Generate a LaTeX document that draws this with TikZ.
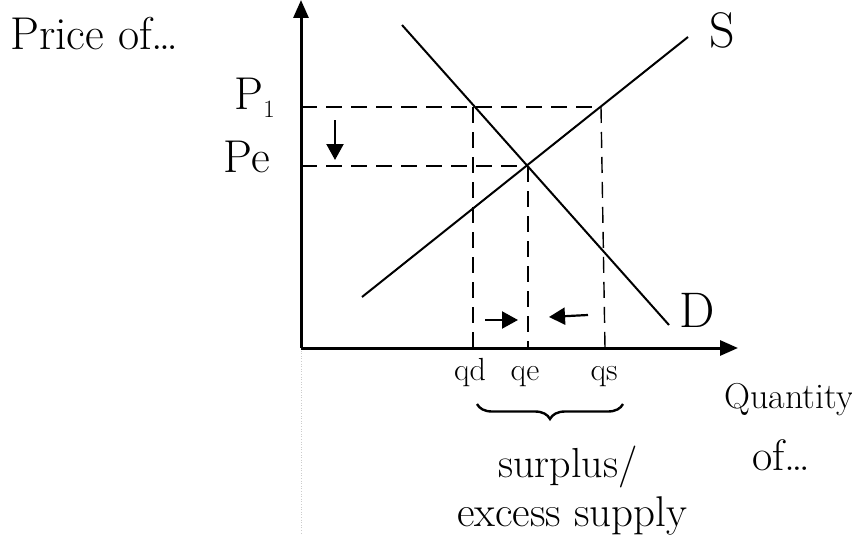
\documentclass[tikz,border=0pt]{standalone}
\usepackage{fontspec}
\usetikzlibrary{arrows.meta,decorations.pathreplacing}
\begin{document}
\begin{tikzpicture}[x=1pt,y=-1pt,
  axis/.style={line width=3pt,-{Triangle[length=18pt,width=15pt]}},
  curve/.style={line width=2pt},
  guide/.style={line width=1.4pt,dash pattern=on 16pt off 9pt},
  smallarrow/.style={line width=2.2pt,-{Triangle[length=16pt,width=17pt]}},
  lbl/.style={inner sep=0pt,font=\fontsize{46}{48}\selectfont},
  qlbl/.style={inner sep=0pt,anchor=base,font=\fontsize{32}{34}\selectfont},
  txt/.style={inner sep=0pt,anchor=base west}]
\useasboundingbox (0,0) rectangle (852,535);
% coordinates
\coordinate (O) at (301,348);
\coordinate (ytop) at (301,0);
\coordinate (xend) at (738,348);
\coordinate (D1) at (402,25);
\coordinate (D2) at (669,325);
\coordinate (S1) at (362,297);
\coordinate (S2) at (688,37);
\coordinate (E) at (528,166);
\coordinate (P1a) at (301,107);
\coordinate (P1d) at (473,107);
\coordinate (P1s) at (601,107);
\coordinate (Pea) at (301,166);
\coordinate (qdb) at (473,348);
\coordinate (qeb) at (528,348);
\coordinate (qsb) at (605,348);
% faint scan line
\draw[gray!40,line width=0.6pt,dotted] (O) -- (301,535);
% guides
\draw[guide] (P1a) -- (P1s);
\draw[guide] (Pea) -- (E);
\draw[guide] (P1d) -- (qdb);
\draw[guide] (E) -- (qeb);
\draw[guide] (P1s) -- (qsb);
% axes
\draw[axis] (O) -- (ytop);
\draw[axis] (O) -- (xend);
% curves
\draw[curve] (D1) -- (D2);
\draw[curve] (S1) -- (S2);
% small arrows
\coordinate (da1) at (335,120);
\coordinate (da2) at (335,160);
\draw[smallarrow] (da1) -- (da2);
\coordinate (ra1) at (485,320);
\coordinate (ra2) at (518,320);
\draw[smallarrow] (ra1) -- (ra2);
\coordinate (la1) at (588,315);
\coordinate (la2) at (549,317);
\draw[smallarrow] (la1) -- (la2);
% labels
\node[txt,font=\fontsize{46}{48}\selectfont] (price) at (10,50) {Price of\ldots};
\node[lbl] (lP1) at (255,98) {P$_1$};
\node[lbl] (lPe) at (247,157) {Pe};
\node[lbl,font=\fontsize{50}{52}\selectfont] (lS) at (722,30) {S};
\node[lbl,font=\fontsize{50}{52}\selectfont] (lD) at (697,310) {D};
\node[qlbl] (lqd) at (470,380) {qd};
\node[qlbl] (lqe) at (525,380) {qe};
\node[qlbl] (lqs) at (604,380) {qs};
\coordinate (br1) at (477,404);
\coordinate (br2) at (623,404);
\draw[line width=2.4pt,decorate,decoration={brace,mirror,amplitude=15pt,aspect=0.5}] (br1) -- (br2);
\node[txt,font=\fontsize{42}{44}\selectfont] (surplus) at (498,477) {surplus/};
\node[txt,font=\fontsize{43}{45}\selectfont] (excess) at (457,526) {excess supply};
\node[txt,font=\fontsize{36}{38}\selectfont] (quant) at (724,408) {Quantity};
\node[txt,font=\fontsize{44}{46}\selectfont] (of) at (752,470) {of\ldots};
\end{tikzpicture}
\end{document}
